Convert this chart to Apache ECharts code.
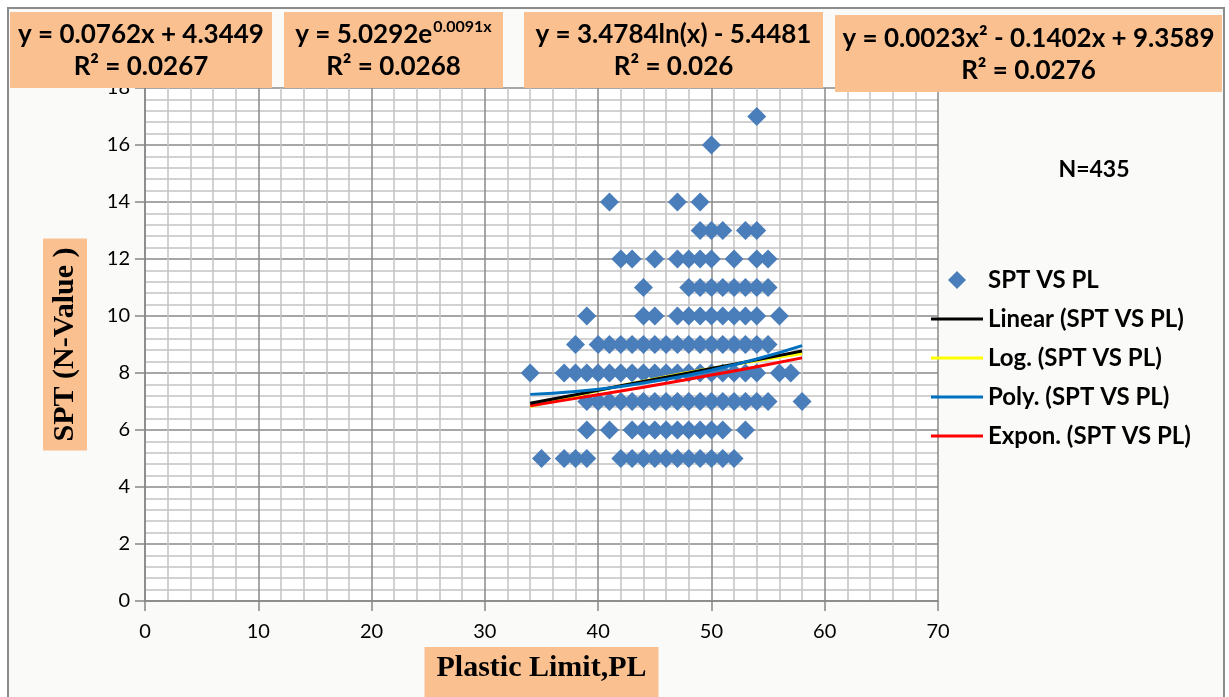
<!DOCTYPE html>
<html>
<head>
<meta charset="utf-8">
<script src="https://cdn.jsdelivr.net/npm/echarts@6/dist/echarts.min.js"></script>
<style>html,body{margin:0;padding:0;background:#fff}#c{width:1229px;height:697px}</style>
</head>
<body>
<div id="c"></div>
<script>
// ---- data ----
const plAtSpt17 = [54];
const plAtSpt16 = [50];
const plAtSpt14 = [41, 47, 49];
const plAtSpt13 = [49, 50, 51, 53, 54];
const plAtSpt12 = [42, 43, 45, 47, 48, 49, 50, 52, 54, 55];
const plAtSpt11 = [44, 48, 49, 50, 51, 52, 53, 54, 55];
const plAtSpt10 = [39, 44, 45, 47, 48, 49, 50, 51, 52, 53, 54, 56];
const plAtSpt9  = [38, 40, 41, 42, 43, 44, 45, 46, 47, 48, 49, 50, 51, 52, 53, 54, 55];
const plAtSpt8  = [34, 37, 38, 39, 40, 41, 42, 43, 44, 45, 46, 47, 48, 49, 50, 51, 52, 53, 54, 56, 57];
const plAtSpt7  = [39, 40, 41, 42, 43, 44, 45, 46, 47, 48, 49, 50, 51, 52, 53, 54, 55, 58];
const plAtSpt6  = [39, 41, 43, 44, 45, 46, 47, 48, 49, 50, 51, 53];
const plAtSpt5  = [35, 37, 38, 39, 42, 43, 44, 45, 46, 47, 48, 49, 50, 51, 52];
const sptLevels = [17, 16, 14, 13, 12, 11, 10, 9, 8, 7, 6, 5];
const plRows = [plAtSpt17, plAtSpt16, plAtSpt14, plAtSpt13, plAtSpt12, plAtSpt11,
                plAtSpt10, plAtSpt9, plAtSpt8, plAtSpt7, plAtSpt6, plAtSpt5];

const trendPL    = [34, 38, 42, 46, 50, 54, 58];
const linearFit  = [6.94, 7.24, 7.55, 7.85, 8.16, 8.46, 8.77];
const logFit     = [6.82, 7.20, 7.55, 7.87, 8.16, 8.43, 8.68];
const polyFit    = [7.25, 7.35, 7.53, 7.78, 8.10, 8.49, 8.96];
const exponFit   = [6.85, 7.11, 7.37, 7.64, 7.93, 8.22, 8.53];

const xTicks = [0, 10, 20, 30, 40, 50, 60, 70];
const yTicks = [0, 2, 4, 6, 8, 10, 12, 14, 16, 18];

const seriesName = 'SPT VS PL';
const eqLinear = ['y = 0.0762x + 4.3449', 'R² = 0.0267'];
const eqExpon  = ['y = 5.0292e', '0.0091x', 'R² = 0.0268'];
const eqLog    = ['y = 3.4784ln(x) - 5.4481', 'R² = 0.026'];
const eqPoly   = ['y = 0.0023x² - 0.1402x + 9.3589', 'R² = 0.0276'];
const nLabel = 'N=435';

// ---- build ----
const scatterData = [];
plRows.forEach((row, i) => row.forEach(x => scatterData.push([x, sptLevels[i]])));
const pair = ys => trendPL.map((x, i) => [x, ys[i]]);

const FONT = 'Lato, "Open Sans", sans-serif';
const SERIF = '"Liberation Serif", "DejaVu Serif", serif';
const PEACH = '#FAC090';

const richBase = {
  a: { fontSize: 26, fontWeight: 'bold', fontFamily: FONT, lineHeight: 32, color: '#000' },
  s: { fontSize: 16, fontWeight: 'bold', fontFamily: FONT, lineHeight: 32, verticalAlign: 'top', color: '#000', padding: [0, 0, 0, 1] }
};
function eqBox(x, y, w, h, text) {
  return {
    type: 'group', z: 100,
    children: [
      { type: 'rect', shape: { x: x, y: y, width: w, height: h }, style: { fill: PEACH }, z: 100 },
      { type: 'text', x: x + w / 2, y: y + h / 2 + 1, z: 101,
        style: { text: text, rich: richBase, align: 'center', verticalAlign: 'middle',
                 font: 'bold 26px ' + FONT, fill: '#000', lineHeight: 32 } }
    ]
  };
}

const iconDiamond = 'path://M0,9L0,9M52,9L52,9M26,0L35,9L26,18L17,9Z';
const iconLine = 'path://M0,0L0,0M0,18L0,18M0,7.5L52,7.5L52,10.5L0,10.5Z';

const chart = echarts.init(document.getElementById('c'), null, { renderer: 'canvas' });
chart.setOption({
  backgroundColor: '#ffffff',
  animation: false,
  textStyle: { fontFamily: FONT },
  grid: { left: 145, right: 291, top: 88, bottom: 96, outerBoundsMode: 'none', containLabel: false,
          show: true, backgroundColor: '#ffffff', borderWidth: 0, z: -5 },
  xAxis: {
    type: 'value', min: xTicks[0], max: xTicks[xTicks.length - 1], interval: 10,
    name: 'Plastic Limit,PL', nameLocation: 'middle', nameGap: 46,
    nameTextStyle: { fontFamily: SERIF, fontWeight: 'bold', fontSize: 30, color: '#000',
                     backgroundColor: PEACH, padding: [6, 12, 14, 12], verticalAlign: 'top' },
    axisLine: { show: true, lineStyle: { color: '#868686', width: 1.5 } },
    axisTick: { show: true, length: 10, lineStyle: { color: '#868686', width: 1.5 } },
    axisLabel: { fontSize: 20, color: '#000', margin: 21, fontFamily: FONT },
    splitLine: { show: true, lineStyle: { color: '#8a8a8a', width: 1.5 } },
    minorSplitLine: { show: true, lineStyle: { color: '#c4c4c4', width: 1.5 } },
    minorTick: { show: false, splitNumber: 5 }
  },
  yAxis: {
    type: 'value', min: yTicks[0], max: yTicks[yTicks.length - 1], interval: 2,
    name: 'SPT (N-Value )', nameLocation: 'middle', nameGap: 58, nameRotate: 90,
    nameTextStyle: { fontFamily: SERIF, fontWeight: 'bold', fontSize: 30, color: '#000',
                     backgroundColor: PEACH, padding: [7, 9, 7, 9] },
    axisLine: { show: true, lineStyle: { color: '#868686', width: 1.5 } },
    axisTick: { show: true, length: 10, lineStyle: { color: '#868686', width: 1.5 } },
    axisLabel: { fontSize: 20, color: '#000', margin: 15, fontFamily: FONT },
    splitLine: { show: true, lineStyle: { color: '#8a8a8a', width: 1.5 } },
    minorSplitLine: { show: true, lineStyle: { color: '#c4c4c4', width: 1.5 } },
    minorTick: { show: false, splitNumber: 5 }
  },
  legend: {
    orient: 'vertical', left: 926, top: 262, itemWidth: 52, itemHeight: 18, itemGap: 13,
    itemStyle: { borderWidth: 0 },
    textStyle: { fontSize: 24, fontWeight: 'bold', color: '#000', fontFamily: FONT, lineHeight: 26 },
    data: [
      { name: seriesName, icon: iconDiamond },
      { name: 'Linear (' + seriesName + ')', icon: iconLine },
      { name: 'Log. (' + seriesName + ')', icon: iconLine },
      { name: 'Poly. (' + seriesName + ')', icon: iconLine },
      { name: 'Expon. (' + seriesName + ')', icon: iconLine }
    ]
  },
  series: [
    { name: seriesName, type: 'scatter', symbol: 'diamond', symbolSize: 19,
      itemStyle: { color: '#4A7EBB', opacity: 1 }, data: scatterData, z: 3 },
    { name: 'Log. (' + seriesName + ')', type: 'line', data: pair(logFit), smooth: true, symbol: 'none',
      lineStyle: { color: '#FFFF00', width: 3 }, itemStyle: { color: '#FFFF00' }, z: 4 },
    { name: 'Expon. (' + seriesName + ')', type: 'line', data: pair(exponFit), smooth: true, symbol: 'none',
      lineStyle: { color: '#FF0000', width: 3 }, itemStyle: { color: '#FF0000' }, z: 5 },
    { name: 'Linear (' + seriesName + ')', type: 'line', data: pair(linearFit), smooth: true, symbol: 'none',
      lineStyle: { color: '#000000', width: 3 }, itemStyle: { color: '#000000' }, z: 6 },
    { name: 'Poly. (' + seriesName + ')', type: 'line', data: pair(polyFit), smooth: true, symbol: 'none',
      lineStyle: { color: '#0070C0', width: 3 }, itemStyle: { color: '#0070C0' }, z: 7 }
  ],
  graphic: [
    { type: 'rect', z: -10, shape: { x: 8, y: 8, width: 1216, height: 700 },
      style: { fill: '#fafaf8', stroke: '#8c8c8c', lineWidth: 2 } },
    eqBox(10, 12, 262, 76, '{a|' + eqLinear[0] + '}\n{a|' + eqLinear[1] + '}'),
    eqBox(284, 12, 219, 76, '{a|' + eqExpon[0] + '}{s|' + eqExpon[1] + '}\n{a|' + eqExpon[2] + '}'),
    eqBox(524, 12, 299, 76, '{a|' + eqLog[0] + '}\n{a|' + eqLog[1] + '}'),
    eqBox(835, 15, 387, 77, '{a|' + eqPoly[0] + '}\n{a|' + eqPoly[1] + '}'),
    { type: 'text', x: 1094, y: 170, z: 100,
      style: { text: nLabel, font: 'bold 23px ' + FONT, fill: '#000', align: 'center', verticalAlign: 'middle' } }
  ]
});
</script>
</body>
</html>
